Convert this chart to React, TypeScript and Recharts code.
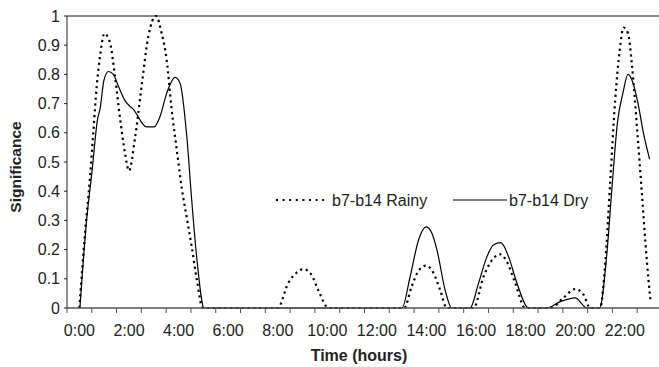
import { LineChart, Line, XAxis, YAxis, ReferenceLine, Legend } from 'recharts';

// readings, time in hours from 0:00
const rainyHours = [
  0.5, 0.73, 0.93, 1.06, 1.2, 1.33, 1.51, 1.73, 1.94, 2.14, 2.34, 2.5, 2.74, 3.01, 3.28, 3.59,
  3.82, 4.02, 4.22, 4.43, 4.63, 4.83, 5.03, 5.23, 5.48, 6.5, 7.5, 8.5, 8.92, 9.25, 9.54, 9.85,
  10.13, 10.55, 11.5, 12.5, 13.6, 13.9, 14.2, 14.49, 14.78, 15.05, 15.32, 16.4, 16.8, 17.2,
  17.47, 17.74, 18.08, 18.48, 19.5, 20.0, 20.5, 20.84, 21.1, 21.5, 21.71, 21.91, 22.11, 22.29,
  22.45, 22.63, 22.79, 22.99, 23.19, 23.39, 23.53,
];
const rainyValues = [
  0, 0.26, 0.45, 0.6, 0.76, 0.86, 0.94, 0.91, 0.79, 0.65, 0.53, 0.47, 0.58, 0.76, 0.93, 1.0,
  0.94, 0.85, 0.68, 0.54, 0.41, 0.31, 0.21, 0.1, 0, 0, 0, 0, 0.085, 0.12, 0.133, 0.115,
  0.062, 0, 0, 0, 0, 0.073, 0.13, 0.145, 0.12, 0.062, 0, 0, 0.107, 0.17,
  0.184, 0.159, 0.085, 0, 0, 0.033, 0.065, 0.045, 0, 0, 0.154, 0.43, 0.71, 0.88,
  0.96, 0.94, 0.83, 0.62, 0.39, 0.16, 0.03,
];

const dryHours = [
  0.52, 0.79, 1.0, 1.24, 1.33, 1.49, 1.67, 1.87, 2.07, 2.34, 2.68, 3.21, 3.51, 3.75, 4.02,
  4.36, 4.56, 4.83, 5.03, 5.26, 5.53, 9.5, 13.51, 13.84, 14.18, 14.49, 14.72, 14.92, 15.25,
  15.52, 16.26, 16.6, 16.94, 17.2, 17.5, 17.81, 18.15, 18.62, 19.36, 19.9, 20.5, 20.97,
  21.48, 21.78, 21.98, 22.21, 22.42, 22.63, 22.79, 23.01, 23.25, 23.5,
];
const dryValues = [
  0, 0.3, 0.46, 0.65, 0.68, 0.78, 0.81, 0.8, 0.76, 0.71, 0.68, 0.62, 0.62, 0.655, 0.735,
  0.79, 0.77, 0.59, 0.37, 0.15, 0, 0, 0, 0.107, 0.233, 0.278, 0.256, 0.2, 0.062,
  0, 0, 0.085, 0.176, 0.216, 0.224, 0.176, 0.085, 0, 0, 0.022, 0.035, 0,
  0, 0.19, 0.41, 0.64, 0.735, 0.8, 0.78, 0.71, 0.6, 0.51,
];

const seriesNames = ['b7-b14 Rainy', 'b7-b14 Dry'];
const hourTicks = [0, 1, 2, 3, 4, 5, 6, 7, 8, 9, 10, 11, 12, 13, 14, 15, 16, 17, 18, 19, 20, 21, 22, 23];
const hourLabels = ['0:00', '2:00', '4:00', '6:00', '8:00', '10:00', '12:00', '14:00', '16:00', '18:00', '20:00', '22:00'];
const valueTicks = [0, 0.1, 0.2, 0.3, 0.4, 0.5, 0.6, 0.7, 0.8, 0.9, 1];

const FONT = '"Liberation Sans", Arial, sans-serif';
const CHART_W = 662;
const PLOT_LEFT = 67;
const HOUR_PX = (CHART_W - PLOT_LEFT) / 24;
const RAINY_DASH = '2.2 3.6';

const rainyData = rainyHours.map((t, i) => ({ t, v: rainyValues[i] }));
const dryData = dryHours.map((t, i) => ({ t, v: dryValues[i] }));

// Excel-style category labels: sit in the middle of the hour, every second hour
function HourTick(props: any) {
  const { x, y, payload } = props;
  const h = payload.value;
  if (h % 2 !== 0) return <g />;
  return (
    <text x={x + HOUR_PX / 2} y={y} dy="0.71em" textAnchor="middle" fontSize={16} fontFamily={FONT} fill="#222">
      {hourLabels[h / 2]}
    </text>
  );
}

function LegendBox(props: any) {
  const items = [...(props.payload || [])].sort(
    (a: any, b: any) => seriesNames.indexOf(a.value) - seriesNames.indexOf(b.value)
  );
  return (
    <svg width={320} height={20}>
      {items.map((it: any, i: number) => {
        const x0 = i * 177;
        const dotted = it.value === seriesNames[0];
        return (
          <g key={it.value}>
            <line
              x1={x0}
              x2={x0 + (dotted ? 48 : 54)}
              y1={10}
              y2={10}
              stroke="#000"
              strokeWidth={dotted ? 2 : 1.2}
              strokeDasharray={dotted ? '2 4.6' : undefined}
            />
            <text x={x0 + 56} y={10} dy="0.35em" fontSize={16} fontFamily={FONT} fill="#222">
              {it.value}
            </text>
          </g>
        );
      })}
    </svg>
  );
}

export default function App() {
  return (
    <div style={{ position: 'absolute', left: 0, top: 0, width: 659, height: 367, overflow: 'hidden', background: '#fff' }}>
      <LineChart width={CHART_W} height={367} margin={{ top: 16, right: 0, bottom: 0, left: 0 }}>
        <XAxis
          type="number"
          dataKey="t"
          domain={[0, 24]}
          ticks={hourTicks}
          interval={0}
          allowDataOverflow
          tickSize={5}
          tickMargin={12}
          height={59}
          axisLine={{ stroke: '#555', strokeWidth: 1.5 }}
          tickLine={{ stroke: '#555' }}
          tick={<HourTick />}
        />
        <YAxis
          type="number"
          domain={[0, 1]}
          ticks={valueTicks}
          interval={0}
          width={PLOT_LEFT}
          tickSize={3}
          tickMargin={4}
          axisLine={{ stroke: '#222' }}
          tickLine={{ stroke: '#222' }}
          tick={{ fontSize: 16, fontFamily: FONT, fill: '#222' }}
          tickFormatter={(v: number) => String(v)}
        />
        <ReferenceLine y={1} stroke="#888" strokeWidth={2} />
        <Legend
          layout="horizontal"
          verticalAlign="middle"
          align="center"
          content={<LegendBox />}
          wrapperStyle={{ left: 276, top: 190, width: 340, height: 20 }}
        />
        <Line
          data={rainyData}
          dataKey="v"
          name={seriesNames[0]}
          type="monotone"
          stroke="#000"
          strokeWidth={2.2}
          strokeDasharray={RAINY_DASH}
          dot={false}
          activeDot={false}
          isAnimationActive={false}
        />
        <Line
          data={dryData}
          dataKey="v"
          name={seriesNames[1]}
          type="monotone"
          stroke="#000"
          strokeWidth={1.2}
          dot={false}
          activeDot={false}
          isAnimationActive={false}
        />
      </LineChart>
      <svg width={659} height={367} style={{ position: 'absolute', left: 0, top: 0, pointerEvents: 'none' }}>
        <text
          x={21}
          y={167}
          transform="rotate(-90 21 167)"
          textAnchor="middle"
          fontSize={15.5}
          fontWeight="bold"
          fontFamily={FONT}
          fill="#222"
        >
          Significance
        </text>
        <text x={359} y={361} textAnchor="middle" fontSize={16} fontWeight="bold" fontFamily={FONT} fill="#222">
          Time (hours)
        </text>
      </svg>
    </div>
  );
}
